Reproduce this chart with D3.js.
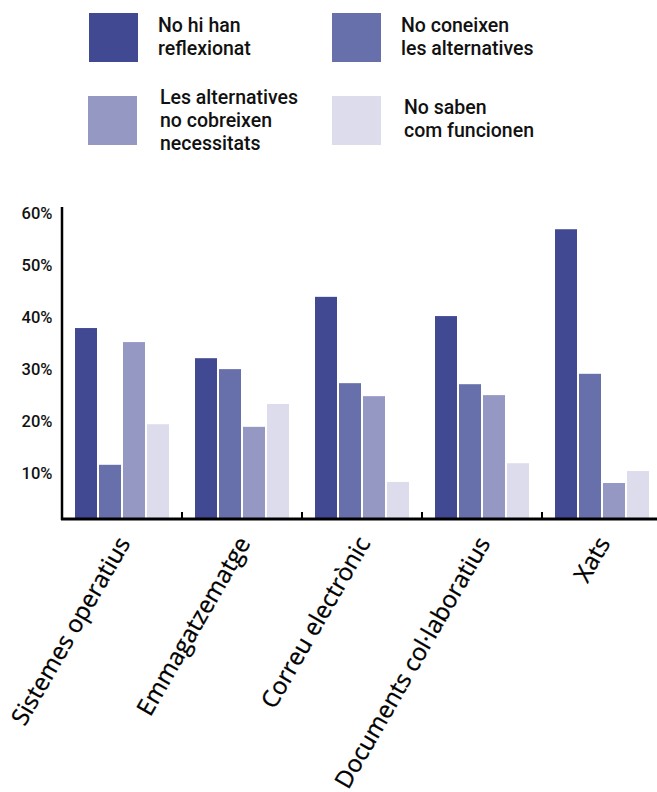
<!DOCTYPE html>
<html><head><meta charset="utf-8">
<script src="https://cdn.jsdelivr.net/npm/d3@7"></script>
<style>
html,body{margin:0;padding:0;background:#fff;}
svg{display:block;}
</style></head>
<body>
<script>
const categories = ["Sistemes operatius","Emmagatzematge","Correu electrònic","Documents col·laboratius","Xats"];
const seriesNames = ["No hi han reflexionat","No coneixen les alternatives","Les alternatives no cobreixen necessitats","No saben com funcionen"];
const legendLines = [["No hi han","reflexionat"],["No coneixen","les alternatives"],["Les alternatives","no cobreixen","necessitats"],["No saben","com funcionen"]];
const noReflexionat = [37.8, 32.0, 43.8, 40.1, 56.8];
const noConeixen = [11.5, 29.9, 27.2, 27.0, 29.0];
const noCobreixen = [35.1, 18.8, 24.7, 24.9, 8.0];
const noSaben = [19.3, 23.2, 8.2, 11.8, 10.3];
const yTicks = [10, 20, 30, 40, 50, 60];
const colors = ["#414993", "#6870ab", "#9498c3", "#dcdcec"];

const series = [noReflexionat, noConeixen, noCobreixen, noSaben];
const W = 657, H = 792;
const svg = d3.select("body").append("svg").attr("width", W).attr("height", H);

const baseY = 518.5;
const x0 = d3.scaleBand().domain(categories).range([62, 662]).padding(0);
const x1 = d3.scaleBand().domain(d3.range(4)).range([13, 107]).paddingInner(2/24).paddingOuter(0);
const y = d3.scaleLinear().domain([0, 60]).range([524.6, 212.6]);
const color = d3.scaleOrdinal().domain(d3.range(4)).range(colors);

// bars
const g = svg.append("g");
categories.forEach((c, ci) => {
  const gg = g.append("g").attr("transform", `translate(${x0(c)},0)`);
  gg.selectAll("rect").data(series.map((s, si) => ({si, v: s[ci]})))
    .join("rect")
    .attr("x", d => x1(d.si))
    .attr("width", x1.bandwidth())
    .attr("y", d => y(d.v))
    .attr("height", d => baseY - y(d.v))
    .attr("fill", d => color(d.si));
});

// y axis
svg.append("line").attr("x1", 62).attr("x2", 62).attr("y1", 207).attr("y2", 520)
  .attr("stroke", "#000").attr("stroke-width", 2.5);
svg.append("g").selectAll("text").data(yTicks).join("text")
  .attr("x", 52.5).attr("y", d => y(d)).attr("dy", "0.36em")
  .attr("text-anchor", "end")
  .attr("font-family", "Roboto").attr("font-weight", 500).attr("font-size", 16.5)
  .attr("fill", "#111")
  .text(d => d + "%");

// x axis
svg.append("line").attr("x1", 61).attr("x2", 657).attr("y1", 519).attr("y2", 519)
  .attr("stroke", "#000").attr("stroke-width", 3);
const bounds = categories.slice(1).map(c => x0(c));
svg.append("g").selectAll("line").data(bounds).join("line")
  .attr("x1", d => d).attr("x2", d => d).attr("y1", 512).attr("y2", 519)
  .attr("stroke", "#000").attr("stroke-width", 2);

// category labels
svg.append("g").selectAll("text").data(categories).join("text")
  .attr("transform", d => `translate(${x0(d) + x0.bandwidth()/2 + 9},543) rotate(-60)`)
  .attr("text-anchor", "end")
  .attr("font-family", "Open Sans").attr("font-weight", 400).attr("font-size", 24)
  .attr("fill", "#000").attr("stroke", "#000").attr("stroke-width", 0.3)
  .text(d => d);

// legend
const legPos = [
  {sx: 89, sy: 13, tx: 158, ty: [31.7, 55]},
  {sx: 332, sy: 13, tx: 401, ty: [31.7, 55]},
  {sx: 88, sy: 96, tx: 160, ty: [103.5, 127, 150]},
  {sx: 332, sy: 96, tx: 404, ty: [113.5, 137]}
];
const leg = svg.append("g");
seriesNames.forEach((n, i) => {
  const p = legPos[i];
  leg.append("rect").attr("x", p.sx).attr("y", p.sy).attr("width", 49).attr("height", 49).attr("fill", color(i));
  const t = leg.append("text").attr("font-family", "Roboto").attr("font-weight", 500)
    .attr("font-size", 19.5).attr("fill", "#111");
  legendLines[i].forEach((l, li) => {
    t.append("tspan").attr("x", p.tx).attr("y", p.ty[li]).text(l);
  });
});
</script>
</body></html>
